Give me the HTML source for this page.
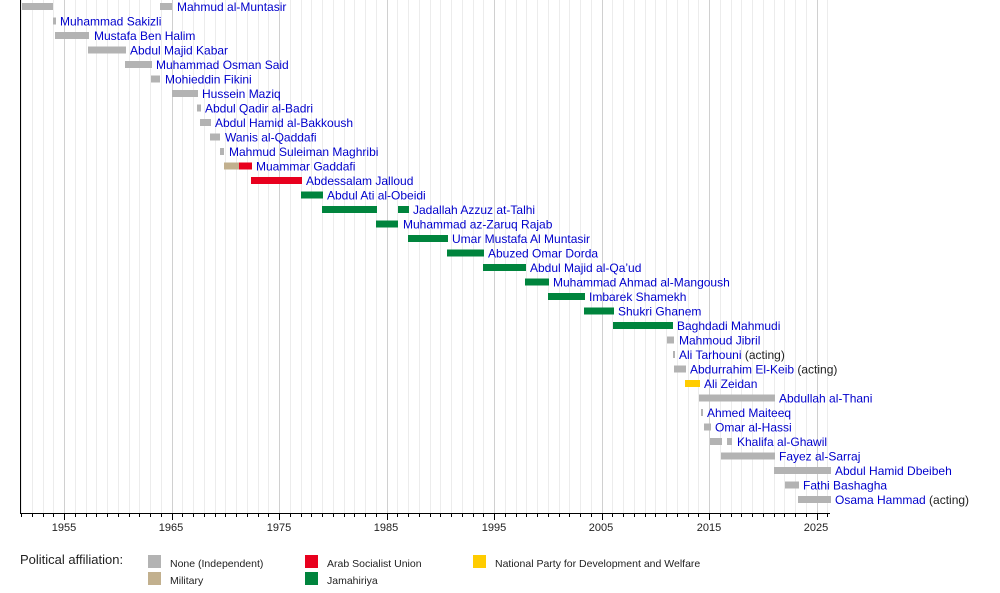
<!DOCTYPE html>
<html><head><meta charset="utf-8"><style>
body{margin:0;background:#fff}
svg{display:block;font-family:"Liberation Sans",sans-serif}
.l{fill:#0000cc;font-size:12px}
.a{fill:#222;font-size:12px}
</style></head><body>
<svg width="1000" height="593" xmlns="http://www.w3.org/2000/svg">
<g id="grid"></g>
<g id="bars"></g>
<line x1="20.5" y1="0" x2="20.5" y2="514" stroke="#000"/>
<line x1="20" y1="513.5" x2="830" y2="513.5" stroke="#000"/>
<g id="ticks"></g>
<g font-size="11" fill="#222" text-anchor="middle">
<text x="64" y="531">1955</text><text x="171" y="531">1965</text><text x="279" y="531">1975</text><text x="386" y="531">1985</text><text x="494" y="531">1995</text><text x="601" y="531">2005</text><text x="709" y="531">2015</text><text x="816" y="531">2025</text>
</g>
<text x="20" y="564" font-size="13" fill="#222">Political affiliation:</text>
<g font-size="10.5" fill="#222">
<rect x="148" y="555" width="13" height="13" fill="#b3b3b3"/><text x="170" y="567">None (Independent)</text>
<rect x="148" y="572" width="13" height="13" fill="#c2b08e"/><text x="170" y="584">Military</text>
<rect x="305" y="555" width="13" height="13" fill="#e8001e"/><text x="327" y="567">Arab Socialist Union</text>
<rect x="305" y="572" width="13" height="13" fill="#00843d"/><text x="327" y="584">Jamahiriya</text>
<rect x="473" y="555" width="13" height="13" fill="#ffcc00"/><text x="495" y="567">National Party for Development and Welfare</text>
</g>
<script>
var ns="http://www.w3.org/2000/svg";
function el(p,t,a,txt){var e=document.createElementNS(ns,t);for(var k in a)e.setAttribute(k,a[k]);if(txt!=null)e.textContent=txt;document.getElementById(p).appendChild(e);return e;}
for(var y=1951;y<=2026;y++){var x=Math.round(64+(y-1955)*10.75)+0.5;var maj=(y%10==5);
 el("grid","line",{x1:x,y1:0,x2:x,y2:513,stroke:maj?"#d0d0d0":"#ececec"});
 el("ticks","line",{x1:x,y1:513,x2:x,y2:maj?520:517,stroke:"#000"});}
var G="#b3b3b3",T="#c2b08e",R="#e8001e",N="#00843d",Y="#ffcc00";
var d=[
[[[22,53,G],[160,172,G]],177,"Mahmud al-Muntasir"],
[[[53,56,G]],60,"Muhammad Sakizli"],
[[[55,89,G]],94,"Mustafa Ben Halim"],
[[[88,126,G]],130,"Abdul Majid Kabar"],
[[[125,152,G]],156,"Muhammad Osman Said"],
[[[151,160,G]],165,"Mohieddin Fikini"],
[[[172,198,G]],202,"Hussein Maziq"],
[[[197,201,G]],205,"Abdul Qadir al-Badri"],
[[[200,211,G]],215,"Abdul Hamid al-Bakkoush"],
[[[210,220,G]],225,"Wanis al-Qaddafi"],
[[[220,224,G]],229,"Mahmud Suleiman Maghribi"],
[[[224,239,T],[239,252,R]],256,"Muammar Gaddafi"],
[[[251,302,R]],306,"Abdessalam Jalloud"],
[[[301,323,N]],327,"Abdul Ati al-Obeidi"],
[[[322,377,N],[398,409,N]],413,"Jadallah Azzuz at-Talhi"],
[[[376,398,N]],403,"Muhammad az-Zaruq Rajab"],
[[[408,448,N]],452,"Umar Mustafa Al Muntasir"],
[[[447,484,N]],488,"Abuzed Omar Dorda"],
[[[483,526,N]],530,"Abdul Majid al-Qa\u2019ud"],
[[[525,549,N]],553,"Muhammad Ahmad al-Mangoush"],
[[[548,585,N]],589,"Imbarek Shamekh"],
[[[584,614,N]],618,"Shukri Ghanem"],
[[[613,673,N]],677,"Baghdadi Mahmudi"],
[[[667,674,G]],679,"Mahmoud Jibril"],
[[[673,675,G]],679,"Ali Tarhouni","acting"],
[[[674,686,G]],690,"Abdurrahim El-Keib","acting"],
[[[685,700,Y]],704,"Ali Zeidan"],
[[[699,775,G]],779,"Abdullah al-Thani"],
[[[701,703,G]],707,"Ahmed Maiteeq"],
[[[704,711,G]],715,"Omar al-Hassi"],
[[[710,722,G],[727,732,G]],737,"Khalifa al-Ghawil"],
[[[721,775,G]],779,"Fayez al-Sarraj"],
[[[774,831,G]],835,"Abdul Hamid Dbeibeh"],
[[[785,799,G]],803,"Fathi Bashagha"],
[[[798,831,G]],835,"Osama Hammad","acting"]];
d.forEach(function(r,i){var c=6.5+14.5*i;
 r[0].forEach(function(b){el("bars","rect",{x:b[0],y:c-3.5,width:b[1]-b[0],height:7,fill:b[2]});});
 var t=el("bars","text",{x:r[1],y:c+4.5,"font-size":"12"});
 var s=document.createElementNS(ns,"tspan");s.setAttribute("fill","#0000cc");s.textContent=r[2];t.appendChild(s);
 if(r[3]){var s2=document.createElementNS(ns,"tspan");s2.setAttribute("fill","#222");s2.textContent=" ("+r[3]+")";t.appendChild(s2);}
});
</script>
</svg>
</body></html>
